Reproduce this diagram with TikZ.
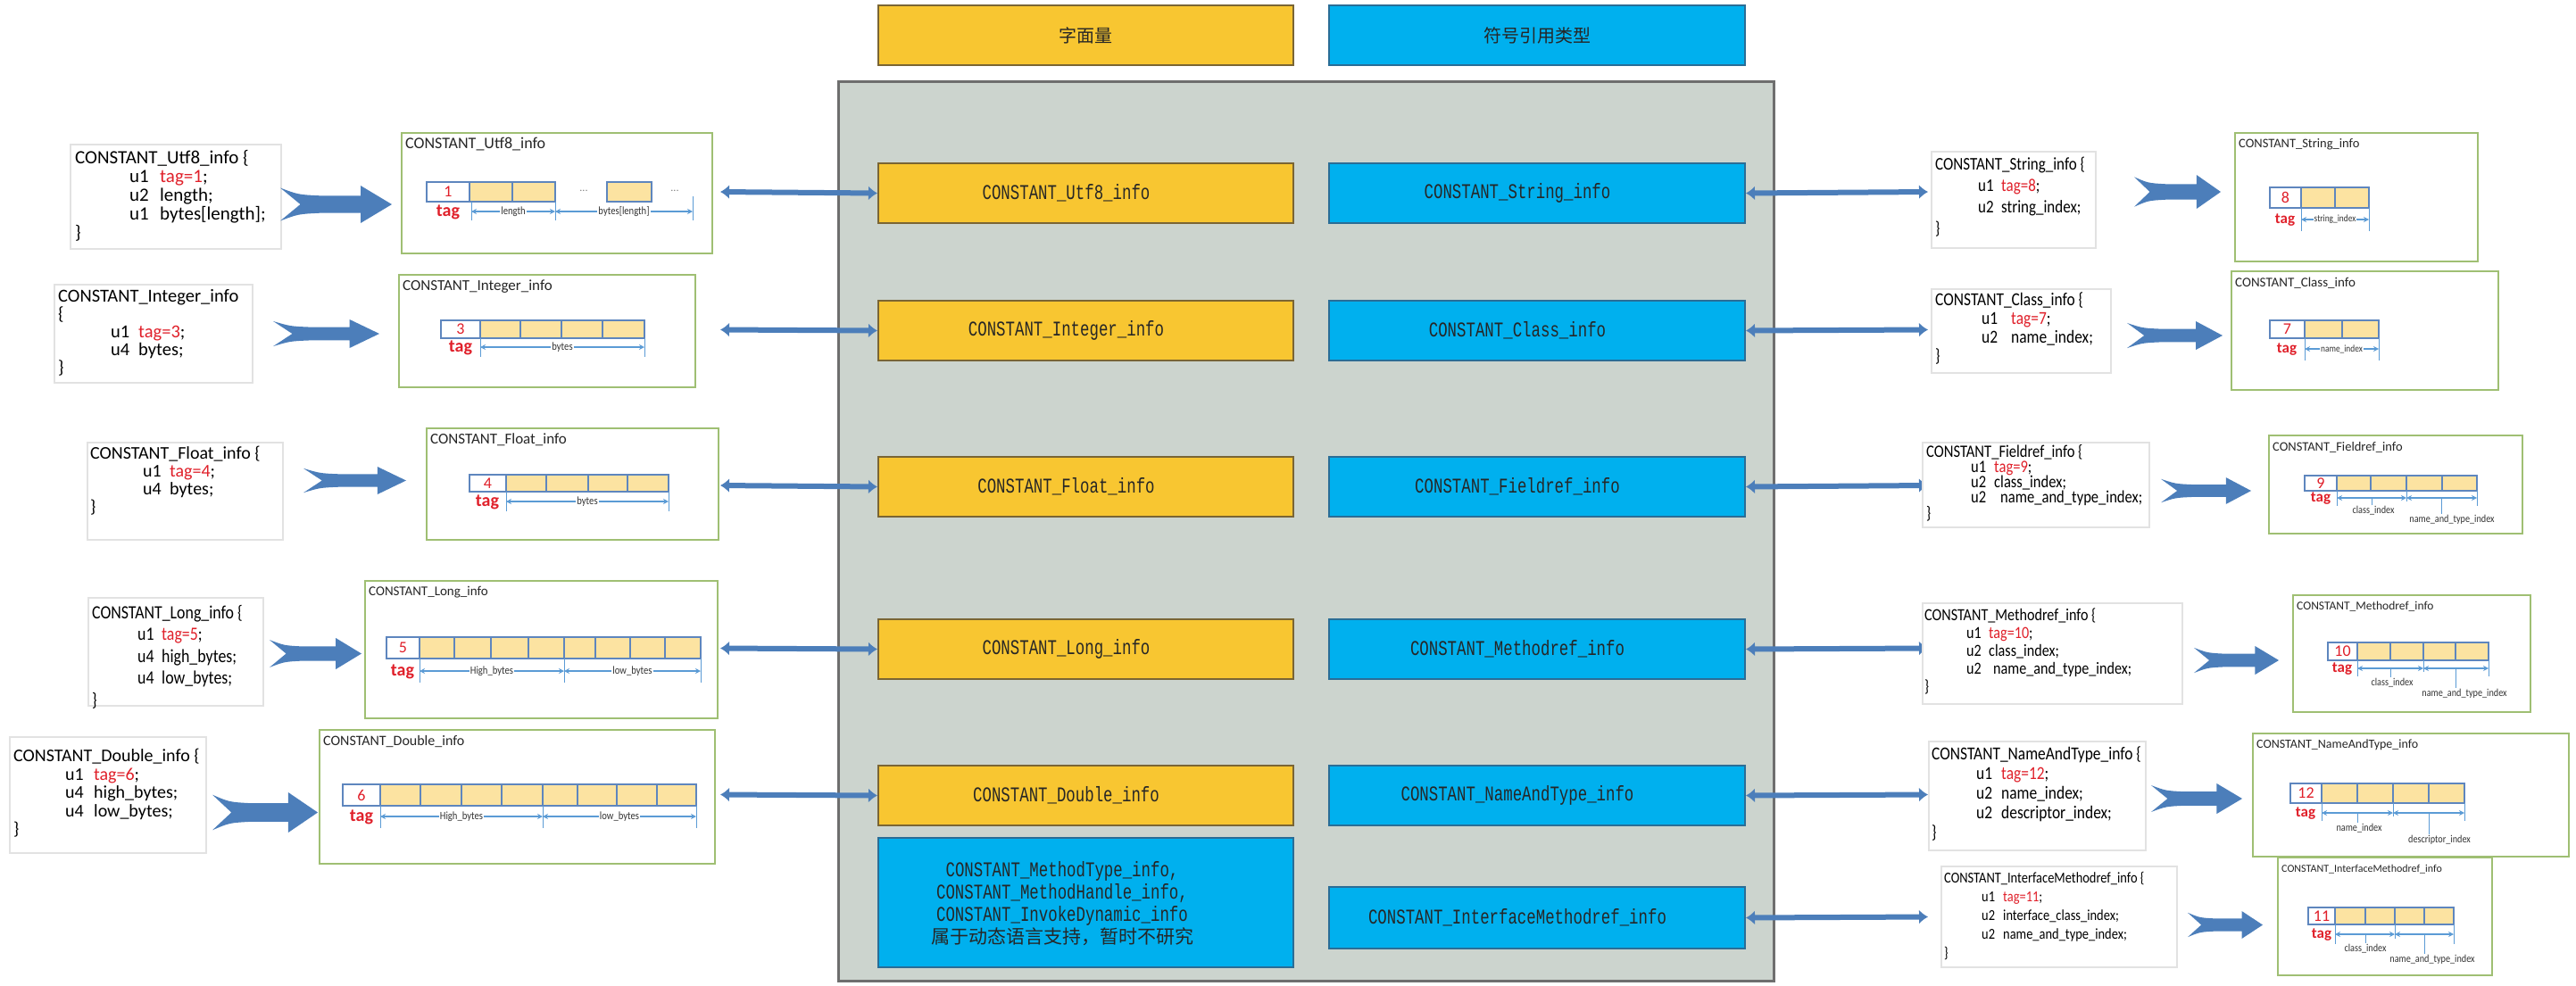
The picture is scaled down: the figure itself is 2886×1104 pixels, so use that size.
\documentclass[tikz,border=0pt]{standalone}
\usepackage{fontspec}
\setmainfont{Carlito}
\newfontfamily\codef{Carlito}
\newfontfamily\codec[FakeStretch=0.85]{Carlito}
\newfontfamily\cmono[FakeStretch=0.74]{Liberation Mono}
\newfontfamily\cjk{Noto Sans CJK SC}
\usetikzlibrary{arrows.meta}

\definecolor{panelfill}{RGB}{204,212,206}
\definecolor{panelborder}{RGB}{110,110,110}
\definecolor{litfill}{RGB}{248,198,49}
\definecolor{litborder}{RGB}{122,101,52}
\definecolor{reffill}{RGB}{0,176,238}
\definecolor{refborder}{RGB}{42,109,150}
\definecolor{ctext}{RGB}{38,38,38}
\definecolor{arrowblue}{RGB}{76,126,186}
\definecolor{cellborder}{RGB}{94,134,190}
\definecolor{cellfill}{RGB}{252,227,161}
\definecolor{dimblue}{RGB}{91,155,213}
\definecolor{diagborder}{RGB}{159,191,115}
\definecolor{codeborder}{RGB}{226,226,226}
\definecolor{tagred}{RGB}{224,32,42}

\newcommand{\tr}[1]{\textcolor{tagred}{#1}}
\newcommand{\kl}[2]{\hspace*{\ki pt}\makebox[\kg pt][l]{#1}#2}
\newcommand{\ct}[1]{#1\hspace*{44pt}}

% name, x1, y1, x2, y2, text left x, text centre y, font keys, content
\newcommand{\codebox}[9]{%
  \pgfmathsetmacro\cbw{#4-#2}\pgfmathsetmacro\cbh{#5-#3}%
  \node[codebox, anchor=north west, minimum width=\cbw pt, minimum height=\cbh pt] (#1) at (#2,#3) {};
  \node[codetext, #8, anchor=west] (#1t) at (#6,#7) {#9};}

% name, x1, y1, x2, y2, title size, title
\newcommand{\diagbox}[7]{%
  \pgfmathsetmacro\cbw{#4-#2}\pgfmathsetmacro\cbh{#5-#3}%
  \node[diagbox, anchor=north west, minimum width=\cbw pt, minimum height=\cbh pt] (#1) at (#2,#3) {};
  \node[diagtitle, font=\codef\fontsize{#6}{#6}\selectfont, anchor=west] (#1t) at ([xshift=5pt,yshift=-14pt]#1.north west) {#7};}

% prefix, y1, y2, tag x1, tag x2, digit, yellow cells
\newcommand{\cellrow}[7]{%
  \foreach \a/\b in {#7} {\draw[celly] (\a,#2) rectangle (\b,#3);}
  \draw[cellw] (#4,#2) rectangle (#5,#3);
  \node[cellnum] (#1d) at ({(#4+#5)/2},{(#2+#3)/2}) {#6};}

\newcommand{\taglbl}[4]{\node[taglbl, font=\codef\bfseries\fontsize{#4}{#4}\selectfont] (#1) at (#2,#3) {tag};}
\newcommand{\tick}[3]{\draw[dimtick] (#1,#2) -- (#1,#3);}
% name, xa, xb, y, label, size
\newcommand{\dimlab}[6]{\draw[dimarr] (#2,#4) -- node[dimlbl, font=\codec\fontsize{#6}{#6}\selectfont] (#1) {#5} (#3,#4);}
% name, xa, xb, y, stem x, label y, label x, label
\newcommand{\dimbelow}[8]{%
  \draw[dimarr] (#2,#4) -- (#3,#4);
  \draw[dimtick] (#5,#4) -- (#5,{#6-6});
  \node[dimlbl2] (#1) at (#7,#6) {#8};}

\newcommand{\fatarrow}[4]{%
  \pgfmathsetmacro\faw{#2-#1}\pgfmathsetmacro\fah{#4-#3}%
  \begin{scope}[shift={(#1,#3)}, xscale=\faw, yscale=\fah]
    \fill[fatfill] (0,0.06) .. controls (0.16,0.24) .. (0.36,0.27) -- (0.72,0.27) -- (0.72,0) -- (1,0.5) -- (0.72,1) -- (0.72,0.73) -- (0.36,0.73) .. controls (0.16,0.76) .. (0,0.94) -- (0.18,0.5) -- cycle;
  \end{scope}}

\tikzset{
  panel/.style={draw=panelborder, line width=2.5pt, fill=panelfill, inner sep=0pt},
  litbox/.style={draw=litborder, line width=2pt, fill=litfill, minimum width=465pt, minimum height=67pt, inner sep=0pt, text=ctext},
  refbox/.style={draw=refborder, line width=2pt, fill=reffill, minimum width=466pt, minimum height=67pt, inner sep=0pt, text=ctext},
  mono/.style={font=\cmono\fontsize{23.5}{26}\selectfont},
  headtxt/.style={font=\cjk\fontsize{20}{24}\selectfont},
  codebox/.style={draw=codeborder, line width=1.5pt, fill=white, inner sep=0pt},
  codetext/.style={align=left, inner sep=0pt, text=black},
  diagbox/.style={draw=diagborder, line width=1.5pt, fill=white, inner sep=0pt},
  diagtitle/.style={inner sep=0pt, text=black!85},
  cellw/.style={draw=cellborder, line width=2pt, fill=white},
  celly/.style={draw=cellborder, line width=2pt, fill=cellfill},
  cellnum/.style={text=tagred, font=\codef\fontsize{18}{18}\selectfont, inner sep=0pt},
  taglbl/.style={text=tagred, inner sep=0pt},
  dimarr/.style={draw=dimblue, line width=1.2pt, {Stealth[length=6pt,width=6pt]}-{Stealth[length=6pt,width=6pt]}},
  dimtick/.style={draw=dimblue, line width=1pt},
  dimlbl/.style={fill=white, inner sep=1pt, text=black!80},
  dimlbl2/.style={inner sep=0pt, text=black!80, font=\codec\fontsize{12}{12}\selectfont},
  dbl/.style={draw=arrowblue, line width=6pt, {Latex[length=10pt,width=16pt]}-{Latex[length=10pt,width=16pt]}},
  fatfill/.style={fill=arrowblue},
  dotlbl/.style={text=black!50, inner sep=0pt, font=\codef\fontsize{12}{12}\selectfont},
}

\begin{document}
\begin{tikzpicture}[x=1pt,y=-1pt]
\useasboundingbox (0,0) rectangle (2886,1104);
\fill[white] (0,0) rectangle (2886,1104);

% ---------- centre ----------
\node[litbox, headtxt, anchor=north west] (lithead) at (983,5) {字面量};
\node[refbox, headtxt, anchor=north west] (refhead) at (1488,5) {符号引用类型};
\node[panel, anchor=north west, minimum width=1048pt, minimum height=1008pt] (panel) at (938,90) {};

\node[litbox, mono, anchor=north west] (lit1) at (983,182) {\ct{CONSTANT\_Utf8\_info}};
\node[litbox, mono, anchor=north west] (lit2) at (983,336) {\ct{CONSTANT\_Integer\_info}};
\node[litbox, mono, anchor=north west] (lit3) at (983,511) {\ct{CONSTANT\_Float\_info}};
\node[litbox, mono, anchor=north west] (lit4) at (983,693) {\ct{CONSTANT\_Long\_info}};
\node[litbox, mono, anchor=north west] (lit5) at (983,857) {\ct{CONSTANT\_Double\_info}};

\node[refbox, mono, anchor=north west] (ref1) at (1488,182) {\ct{CONSTANT\_String\_info}};
\node[refbox, mono, anchor=north west] (ref2) at (1488,336) {\ct{CONSTANT\_Class\_info}};
\node[refbox, mono, anchor=north west] (ref3) at (1488,511) {\ct{CONSTANT\_Fieldref\_info}};
\node[refbox, mono, anchor=north west] (ref4) at (1488,693) {\ct{CONSTANT\_Methodref\_info}};
\node[refbox, mono, anchor=north west] (ref5) at (1488,857) {\ct{CONSTANT\_NameAndType\_info}};
\node[refbox, mono, anchor=north west, minimum height=69pt] (ref6) at (1488,993) {\ct{CONSTANT\_InterfaceMethodref\_info}};

\node[refbox, anchor=north west, minimum width=465pt, minimum height=145pt] (dyn) at (983,938) {};
\node[align=center, inner sep=0pt, text=ctext, font=\cmono\fontsize{23.5}{25}\selectfont] (dyntext) at (1190,1013)
  {CONSTANT\_MethodType\_info,\\CONSTANT\_MethodHandle\_info,\\CONSTANT\_InvokeDynamic\_info\\{\cjk\fontsize{21}{25}\selectfont 属于动态语言支持，暂时不研究}};

% ---------- double arrows ----------
\coordinate (la1) at (807,215);
\coordinate (la2) at (807,369.5);
\coordinate (la3) at (807,544);
\coordinate (la4) at (807,726.5);
\coordinate (la5) at (807,890.5);
\draw[dbl] (la1) -- (lit1.west);
\draw[dbl] (la2) -- (lit2.west);
\draw[dbl] (la3) -- (lit3.west);
\draw[dbl] (la4) -- (lit4.west);
\draw[dbl] (la5) -- (lit5.west);

\coordinate (ra1) at (2160,215);
\coordinate (ra2) at (2160,369.5);
\coordinate (ra3) at (2160,544);
\coordinate (ra4) at (2160,726.5);
\coordinate (ra5) at (2160,890.5);
\coordinate (ra6) at (2160,1027.5);
\draw[dbl] (ref1.east) -- (ra1);
\draw[dbl] (ref2.east) -- (ra2);
\draw[dbl] (ref3.east) -- (ra3);
\draw[dbl] (ref4.east) -- (ra4);
\draw[dbl] (ref5.east) -- (ra5);
\draw[dbl] (ref6.east) -- (ra6);

% ---------- left code boxes ----------
\def\ki{61}\def\kg{34}
\codebox{L1}{78}{161}{314}{278}{84}{219.5}{font=\codef\fontsize{21}{21}\selectfont}
 {CONSTANT\_Utf8\_info \{\\\kl{u1}{\tr{tag=1};}\\\kl{u2}{length;}\\\kl{u1}{bytes[length];}\\\}}
\def\ki{59}\def\kg{31}
\codebox{L2}{60}{318}{282}{428}{65}{373}{font=\codef\fontsize{20.5}{20}\selectfont}
 {CONSTANT\_Integer\_info\\\{\\\kl{u1}{\tr{tag=3};}\\\kl{u4}{bytes;}\\\}}
\def\ki{59}\def\kg{30}
\codebox{L3}{97}{495}{316}{604}{101}{539}{font=\codef\fontsize{20}{20}\selectfont}
 {CONSTANT\_Float\_info \{\\\kl{u1}{\tr{tag=4};}\\\kl{u4}{bytes;}\\\}}
\def\ki{51}\def\kg{27}
\codebox{L4}{98}{669}{294}{790}{103}{736}{font=\codec\fontsize{21}{24.5}\selectfont}
 {CONSTANT\_Long\_info \{\\\kl{u1}{\tr{tag=5};}\\\kl{u4}{high\_bytes;}\\\kl{u4}{low\_bytes;}\\\}}
\def\ki{58}\def\kg{32}
\codebox{L5}{10}{825}{230}{955}{15}{889}{font=\codef\fontsize{20}{20.5}\selectfont}
 {CONSTANT\_Double\_info \{\\\kl{u1}{\tr{tag=6};}\\\kl{u4}{high\_bytes;}\\\kl{u4}{low\_bytes;}\\\}}

% ---------- right code boxes ----------
\def\ki{48}\def\kg{26}
\codebox{R1}{2163}{169}{2347}{277}{2168}{221}{font=\codec\fontsize{20}{24}\selectfont}
 {CONSTANT\_String\_info \{\\\kl{u1}{\tr{tag=8};}\\\kl{u2}{string\_index;}\\\}}
\def\ki{52}\def\kg{33}
\codebox{R2}{2163}{323}{2364}{417}{2168}{368}{font=\codec\fontsize{20.5}{21}\selectfont}
 {CONSTANT\_Class\_info \{\\\kl{u1}{\tr{tag=7};}\\\kl{u2}{name\_index;}\\\}}
\def\ki{50}\def\kg{26}
\codebox{R3}{2153}{495}{2407}{590}{2158}{541.5}{font=\codec\fontsize{19.5}{17}\selectfont}
 {CONSTANT\_Fieldref\_info \{\\\kl{u1}{\tr{tag=9};}\\\kl{u2}{class\_index;}\\\kl{u2}{\hspace*{7pt}name\_and\_type\_index;}\\\}}
\def\ki{47}\def\kg{25}
\codebox{R4}{2153}{675}{2444}{788}{2156}{730}{font=\codec\fontsize{19}{20}\selectfont}
 {CONSTANT\_Methodref\_info \{\\\kl{u1}{\tr{tag=10};}\\\kl{u2}{class\_index;}\\\kl{u2}{\hspace*{5pt}name\_and\_type\_index;}\\\}}
\def\ki{50}\def\kg{28}
\codebox{R5}{2160}{830}{2403}{952}{2164}{889}{font=\codec\fontsize{20.5}{22}\selectfont}
 {CONSTANT\_NameAndType\_info \{\\\kl{u1}{\tr{tag=12};}\\\kl{u2}{name\_index;}\\\kl{u2}{descriptor\_index;}\\\}}
\def\ki{42}\def\kg{24}
\codebox{R6}{2174}{970}{2438}{1083}{2178}{1026.5}{font=\codec\fontsize{17}{21}\selectfont}
 {CONSTANT\_InterfaceMethodref\_info \{\\\kl{u1}{\tr{tag=11};}\\\kl{u2}{interface\_class\_index;}\\\kl{u2}{name\_and\_type\_index;}\\\}}

% ---------- fat arrows ----------
\fatarrow{314}{439}{208}{250}
\fatarrow{306}{425}{358}{390}
\fatarrow{340}{455}{523}{554}
\fatarrow{302}{405}{715}{750}
\fatarrow{238}{356}{888}{933}
\fatarrow{2391}{2488}{196}{234}
\fatarrow{2383}{2490}{360}{392}
\fatarrow{2421}{2522}{535}{565}
\fatarrow{2458}{2553}{724}{756}
\fatarrow{2410}{2512}{878}{912}
\fatarrow{2451}{2535}{1021}{1052}

% ---------- left diagrams ----------
\diagbox{D1}{449}{148}{797}{283}{18}{CONSTANT\_Utf8\_info}
\cellrow{D1c}{204}{226}{478}{526}{1}{526/574,574/622,680/730}
\node[dotlbl] (D1x1) at (654,214) {...};
\node[dotlbl] (D1x2) at (756,214) {...};
\tick{528}{226}{247}\tick{622}{226}{247}\tick{776}{220}{247}
\dimlab{D1l1}{528}{622}{237}{length}{12.5}
\dimlab{D1l2}{622}{776}{237}{bytes[length]}{12.5}
\taglbl{D1tag}{502}{238}{20}

\diagbox{D2}{446}{307}{778}{433}{17}{CONSTANT\_Integer\_info}
\cellrow{D2c}{359}{379}{494}{538}{3}{538/583,583/629,629/675,675/722}
\tick{538}{379}{400}\tick{722}{379}{400}
\dimlab{D2l1}{538}{722}{389}{bytes}{12.5}
\taglbl{D2tag}{516}{390}{20}

\diagbox{D3}{477}{479}{804}{604}{17}{CONSTANT\_Float\_info}
\cellrow{D3c}{532}{551}{526}{567}{4}{567/612,612/659,659/703,703/749}
\tick{567}{551}{573}\tick{749}{551}{573}
\dimlab{D3l1}{567}{749}{562}{bytes}{12.5}
\taglbl{D3tag}{546}{563}{20}

\diagbox{D4}{408}{650}{803}{804}{15}{CONSTANT\_Long\_info}
\cellrow{D4c}{714}{738}{433}{470}{5}{470/509,509/550,550/592,592/632,632/667,667/706,706/745,745/785}
\tick{470}{738}{765}\tick{632}{738}{765}\tick{785}{738}{765}
\dimlab{D4l1}{470}{632}{752}{High\_bytes}{12.5}
\dimlab{D4l2}{632}{785}{752}{low\_bytes}{12.5}
\taglbl{D4tag}{451}{753}{20}

\diagbox{D5}{357}{817}{800}{967}{16}{CONSTANT\_Double\_info}
\cellrow{D5c}{879}{903}{384}{426}{6}{426/471,471/517,517/562,562/608,608/647,647/691,691/736,736/780}
\tick{426}{903}{928}\tick{608}{903}{928}\tick{780}{903}{928}
\dimlab{D5l1}{426}{608}{915}{High\_bytes}{12.5}
\dimlab{D5l2}{608}{780}{915}{low\_bytes}{12.5}
\taglbl{D5tag}{405}{916}{20}

% ---------- right diagrams ----------
\diagbox{E1}{2503}{148}{2775}{292}{14.5}{CONSTANT\_String\_info}
\cellrow{E1c}{210}{233}{2543}{2578}{8}{2578/2616,2616/2654}
\tick{2578}{233}{259}\tick{2654}{233}{259}
\dimlab{E1l1}{2578}{2654}{246}{string\_index}{11}
\taglbl{E1tag}{2560}{247}{17}

\diagbox{E2}{2499}{303}{2798}{436}{15}{CONSTANT\_Class\_info}
\cellrow{E2c}{359}{379}{2543}{2582}{7}{2582/2624,2624/2665}
\tick{2582}{379}{404}\tick{2665}{379}{404}
\dimlab{E2l1}{2582}{2665}{391}{name\_index}{11}
\taglbl{E2tag}{2562}{392}{17}

\diagbox{E3}{2541}{487}{2825}{597}{14.5}{CONSTANT\_Fieldref\_info}
\cellrow{E3c}{533}{550}{2582}{2618}{9}{2618/2656,2656/2696,2696/2736,2736/2775}
\tick{2618}{550}{567}\tick{2696}{550}{562}\tick{2775}{550}{567}
\dimbelow{E3l1}{2618}{2696}{558}{2657}{572}{2659}{class\_index}
\dimbelow{E3l2}{2696}{2775}{558}{2735}{582}{2747}{name\_and\_type\_index}
\taglbl{E3tag}{2600}{559}{17}

\diagbox{E4}{2568}{666}{2834}{797}{13.5}{CONSTANT\_Methodref\_info}
\cellrow{E4c}{720}{740}{2608}{2641}{10}{2641/2678,2678/2715,2715/2751,2751/2788}
\tick{2641}{740}{758}\tick{2715}{740}{753}\tick{2788}{740}{758}
\dimbelow{E4l1}{2641}{2715}{749}{2678}{765}{2680}{class\_index}
\dimbelow{E4l2}{2715}{2788}{749}{2751}{777}{2761}{name\_and\_type\_index}
\taglbl{E4tag}{2624}{750}{17}

\diagbox{E5}{2523}{821}{2877}{959}{14}{CONSTANT\_NameAndType\_info}
\cellrow{E5c}{878}{900}{2566}{2601}{12}{2601/2641,2641/2681,2681/2721,2721/2761}
\tick{2601}{900}{920}\tick{2681}{900}{915}\tick{2761}{900}{920}
\dimbelow{E5l1}{2601}{2681}{911}{2641}{928}{2643}{name\_index}
\dimbelow{E5l2}{2681}{2761}{911}{2721}{941}{2733}{descriptor\_index}
\taglbl{E5tag}{2583}{912}{17}

\diagbox{E6}{2551}{960}{2791}{1092}{12}{CONSTANT\_InterfaceMethodref\_info}
\cellrow{E6c}{1017}{1036}{2586}{2616}{11}{2616/2650,2650/2683,2683/2716,2716/2749}
\tick{2616}{1036}{1058}\tick{2683}{1036}{1052}\tick{2749}{1036}{1058}
\dimbelow{E6l1}{2616}{2683}{1047}{2650}{1063}{2650}{class\_index}
\dimbelow{E6l2}{2683}{2749}{1047}{2716}{1075}{2725}{name\_and\_type\_index}
\taglbl{E6tag}{2601}{1048}{17}
\end{tikzpicture}
\end{document}
